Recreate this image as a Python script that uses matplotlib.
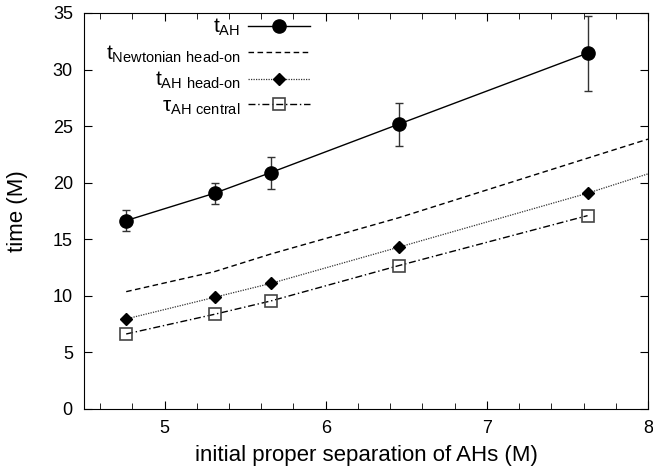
"""
Apparent-horizon formation time vs initial proper separation.
"""

import matplotlib
matplotlib.use("Agg")
import matplotlib.pyplot as plt
from matplotlib.ticker import MultipleLocator

plt.rcParams.update({
    "font.family": ["Liberation Sans", "DejaVu Sans"],
    "mathtext.default": "regular",
    "font.size": 13,
    "xtick.direction": "in",
    "ytick.direction": "in",
})

# data
sep = [4.762, 5.31, 5.66, 6.453, 7.625]
t_ah = [16.65, 19.07, 20.9, 25.17, 31.45]
t_ah_lo = [15.77, 18.12, 19.45, 23.28, 28.14]
t_ah_hi = [17.6, 20.0, 22.3, 27.08, 34.7]

sep_curve = [4.762, 5.31, 5.66, 6.453, 7.625, 8.0]
t_newton = [10.37, 12.14, 13.70, 16.9, 22.17, 23.85]
t_headon_curve = [7.96, 9.87, 11.1, 14.3, 19.07, 20.78]

t_headon = [7.96, 9.87, 11.1, 14.3, 19.07]
tau_central = [6.63, 8.37, 9.55, 12.67, 17.09]

fig = plt.figure(figsize=(6.53, 4.72), dpi=100)
ax = fig.add_axes([0.1286, 0.1335, 0.8637, 0.839])

yerr = [[v - lo for v, lo in zip(t_ah, t_ah_lo)],
        [hi - v for v, hi in zip(t_ah, t_ah_hi)]]
ax.errorbar(sep, t_ah, yerr=yerr, fmt="none", ecolor="#333333",
            elinewidth=1.0, capsize=3, capthick=1.0, zorder=2)
ax.plot(sep, t_ah, color="black", lw=1.0, marker="o", ms=9.5,
        label=r"t$_{AH}$", zorder=3)
ax.plot(sep_curve, t_newton, color="black", lw=1.0, ls=(0, (4, 2.5)),
        label="t$_{Newtonian\\ head\u2010on}$")
ax.plot(sep_curve, t_headon_curve, color="#333333", lw=0.9, ls=(0, (1, 1)))
ax.plot(sep, t_headon, color="black", ls="none", marker="D", ms=6)
ax.plot([], [], color="#333333", lw=0.9, ls=(0, (1, 1)), marker="D",
        mfc="black", mec="black", ms=6, label="t$_{AH\\ head\u2010on}$")
ax.plot(sep, tau_central, color="black", lw=1.0, ls=(0, (5, 2, 1, 2)),
        marker="s", ms=9, mfc="none", mec="#444444", mew=1.2,
        label=r"$\tau_{AH\ central}$")

ax.set_xlim(4.5, 8)
ax.set_ylim(0, 35)
ax.xaxis.set_major_locator(MultipleLocator(1))
ax.xaxis.set_minor_locator(MultipleLocator(0.2))
ax.yaxis.set_major_locator(MultipleLocator(5))
ax.tick_params(which="both", top=True, right=True, labelsize=13, pad=8)
ax.tick_params(which="major", length=6)
ax.tick_params(which="minor", length=4)
ax.set_xlabel("initial proper separation of AHs (M)", fontsize=16, labelpad=6)
ax.set_ylabel("time (M)", fontsize=16, labelpad=18)

ax.legend(loc="upper left", bbox_to_anchor=(0.035, 0.995), frameon=False,
          markerfirst=False, handlelength=3.0, handletextpad=0.35,
          fontsize=15, labelspacing=0.25, borderaxespad=0.0, borderpad=0.1)
for txt in ax.get_legend().get_texts():
    txt.set_ha("right")

fig.savefig("out.png", dpi=100)
